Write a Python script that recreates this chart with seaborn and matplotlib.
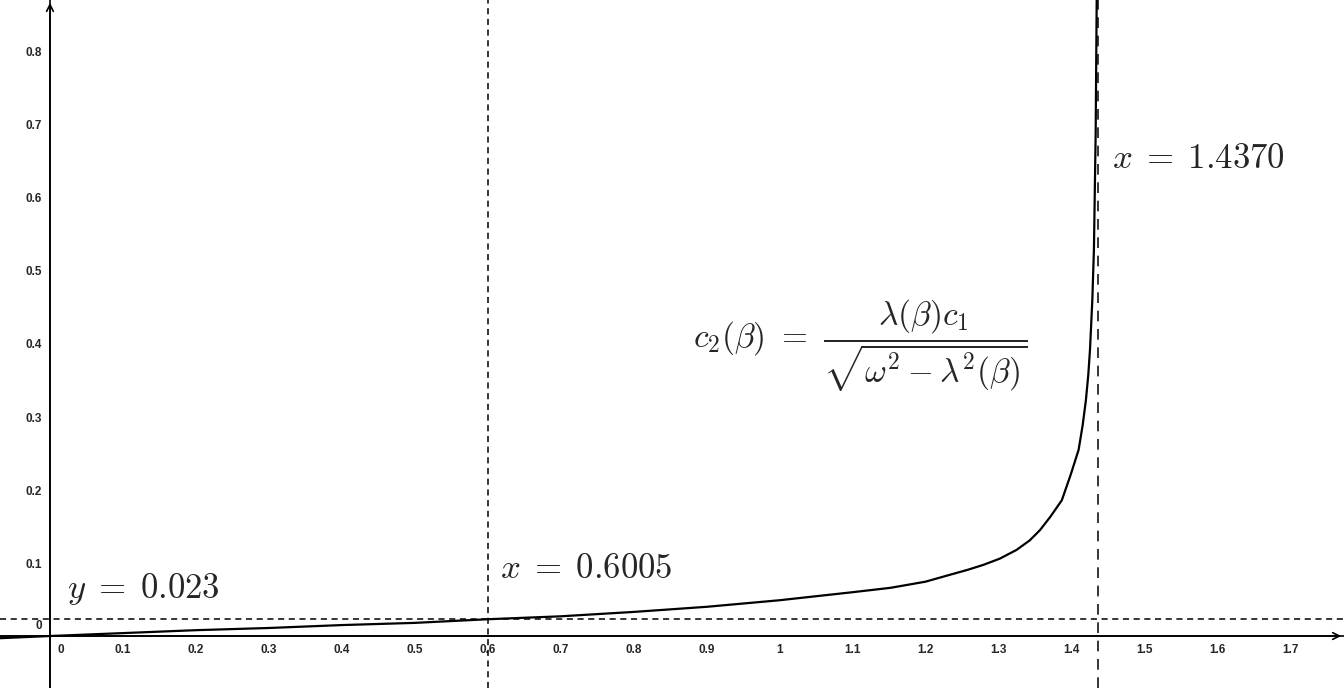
import seaborn as sns
import matplotlib.pyplot as plt
import numpy as np

beta = [-0.069, 0.0, 0.1, 0.2, 0.3, 0.4, 0.5, 0.6005, 0.7, 0.8, 0.9, 1.0, 1.1,
        1.152, 1.2, 1.234, 1.257, 1.279, 1.302, 1.325, 1.343, 1.357, 1.371,
        1.378, 1.387, 1.399, 1.410, 1.4156, 1.420, 1.4233, 1.4256, 1.4288,
        1.431, 1.4334, 1.4348]
c2 = [-0.003, 0.0, 0.004, 0.008, 0.011, 0.015, 0.018, 0.023, 0.027, 0.033,
      0.040, 0.049, 0.060, 0.066, 0.0744, 0.084, 0.0904, 0.0973, 0.106, 0.118,
      0.131, 0.145, 0.163, 0.173, 0.186, 0.2205, 0.255, 0.289, 0.323, 0.358,
      0.392, 0.460, 0.529, 0.689, 0.871]

x_ticks = [0.1, 0.2, 0.3, 0.4, 0.5, 0.6, 0.7, 0.8, 0.9, 1.0, 1.1, 1.2, 1.3, 1.4, 1.5, 1.6, 1.7]
y_ticks = [0.1, 0.2, 0.3, 0.4, 0.5, 0.6, 0.7, 0.8]
beta_low = 0.6005
beta_high = 1.4370
y_level = 0.023

sns.set_style('white')
plt.rcParams['mathtext.fontset'] = 'cm'
plt.rcParams['font.family'] = ['Liberation Sans', 'DejaVu Sans']

fig = plt.figure(figsize=(13.44, 6.88), dpi=100)
ax = fig.add_axes([0, 0, 1, 1])

sns.lineplot(x=beta, y=c2, estimator=None, sort=False, color='black', linewidth=1.6, ax=ax)

ax.axvline(beta_low, color='black', linewidth=1.1, linestyle=(0, (4, 3)))
ax.axvline(beta_high, color='black', linewidth=1.1, linestyle=(0, (7, 5)))
ax.axhline(y_level, color='black', linewidth=1.1, linestyle=(0, (4, 3)))

ax.set_xlim(-0.0685, 1.7738)
ax.set_ylim(-0.0712, 0.8712)

# axes through the origin, GeoGebra style
for side in ['top', 'right']:
    ax.spines[side].set_visible(False)
for side in ['left', 'bottom']:
    ax.spines[side].set_position(('data', 0))
    ax.spines[side].set_linewidth(1.2)
    ax.spines[side].set_color('black')
    ax.spines[side].set_zorder(1)

ax.set_xticks(x_ticks)
ax.set_xticklabels(['%g' % t for t in x_ticks])
ax.set_yticks(y_ticks)
ax.set_yticklabels(['%g' % t for t in y_ticks])
ax.tick_params(axis='both', direction='out', length=3, width=1, color='black',
               labelsize=8.5, pad=3)
for lab in ax.get_xticklabels() + ax.get_yticklabels():
    lab.set_fontweight('bold')
ax.text(0.011, -0.011, '0', fontsize=8.5, fontweight='bold', ha='left', va='top')
ax.text(-0.011, 0.006, '0', fontsize=8.5, fontweight='bold', ha='right', va='bottom')

# arrow heads
ax.annotate('', xy=(1.0, 0), xycoords=('axes fraction', 'data'),
            xytext=(-0.01, 0), textcoords=('axes fraction', 'data'),
            arrowprops=dict(arrowstyle='->', color='black', lw=1.2, mutation_scale=12))
ax.annotate('', xy=(0, 1.0), xycoords=('data', 'axes fraction'),
            xytext=(0, -0.01), textcoords=('data', 'axes fraction'),
            arrowprops=dict(arrowstyle='->', color='black', lw=1.2, mutation_scale=12))

# annotations
ax.text(1.4558, 0.641, r'$x\;=\;1.4370$', fontsize=25, ha='left', va='baseline')
ax.text(0.617, 0.0795, r'$x\;=\;0.6005$', fontsize=25, ha='left', va='baseline')
ax.text(0.0233, 0.052, r'$y\;=\;0.023$', fontsize=25, ha='left', va='baseline')
ax.text(0.881, 0.397,
        r'$c_2(\beta)\ =\ \dfrac{\lambda(\beta)c_1}{\sqrt{\omega^2 - \lambda^2(\beta)}}$',
        fontsize=24, ha='left', va='center')

ax.grid(False)
fig.savefig('out.png', dpi=100)
